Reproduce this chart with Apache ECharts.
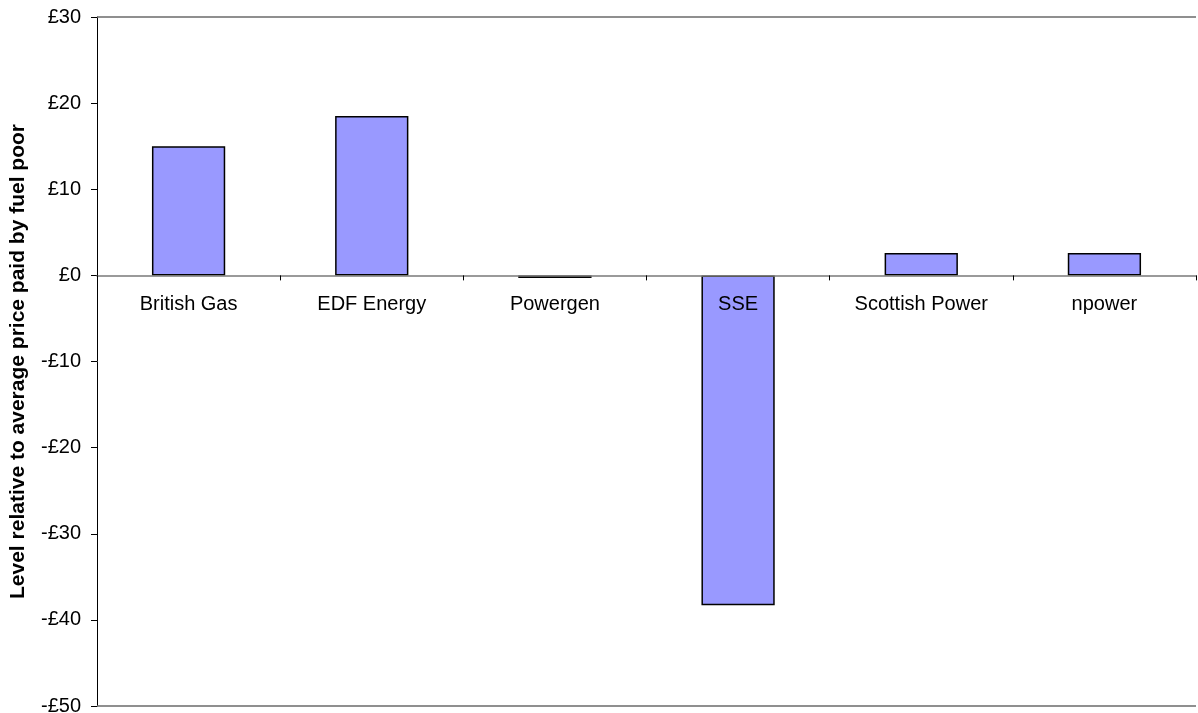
<!DOCTYPE html>
<html>
<head>
<meta charset="utf-8">
<script src="https://cdn.jsdelivr.net/npm/echarts@6/dist/echarts.min.js"></script>
<style>html,body{margin:0;padding:0;background:#fff}#c{width:1198px;height:713px}</style>
</head>
<body>
<div id="c"></div>
<script>
const categories = ['British Gas', 'EDF Energy', 'Powergen', 'SSE', 'Scottish Power', 'npower'];
const values = [15.0, 18.5, -0.3, -38.3, 2.6, 2.6];
const yMin = -50, yMax = 30, yStep = 10;
const yTitle = 'Level relative to average price paid by fuel poor';

const gridTop = 17, gridBottom = 7, H = 713;
const plotH = H - gridTop - gridBottom;
const zeroOffset = -plotH * (0 - yMin) / (yMax - yMin);
const font = 'Liberation Sans, Arial, sans-serif';

const chart = echarts.init(document.getElementById('c'));
chart.setOption({
  animation: false,
  grid: { left: 97, right: 2, top: gridTop, bottom: gridBottom, containLabel: false, outerBoundsMode: 'none' },
  xAxis: {
    type: 'category',
    data: categories,
    position: 'bottom',
    offset: zeroOffset,
    z: 5,
    axisLine: { onZero: false, lineStyle: { color: '#7a7a7a', width: 1.5 } },
    axisTick: { show: true, length: 5, inside: false, lineStyle: { color: '#000' } },
    axisLabel: { fontFamily: font, fontSize: 20, color: '#000', margin: 19 },
    splitLine: { show: false }
  },
  yAxis: {
    type: 'value',
    min: yMin, max: yMax, interval: yStep,
    name: yTitle,
    nameLocation: 'middle',
    nameGap: 68,
    nameTextStyle: { fontFamily: font, fontSize: 21, fontWeight: 'bold', color: '#000' },
    axisLine: { show: true, lineStyle: { color: '#000', width: 1 } },
    axisTick: { show: true, length: 6, lineStyle: { color: '#000' } },
    axisLabel: {
      fontFamily: font, fontSize: 20, color: '#000', margin: 16,
      formatter: v => (v < 0 ? '-£' + Math.abs(v) : '£' + v)
    },
    splitLine: { show: false }
  },
  series: [{
    type: 'bar',
    data: values,
    barWidth: '40%',
    z: 2,
    itemStyle: { color: '#9999FF', borderColor: '#000', borderWidth: 1.5 },
    markLine: {
      silent: true,
      symbol: ['none', 'none'],
      label: { show: false },
      lineStyle: { color: '#6a6a6a', type: 'solid', width: 1.5 },
      data: [{ yAxis: yMax }, { yAxis: yMin }]
    }
  }]
});
</script>
</body>
</html>
